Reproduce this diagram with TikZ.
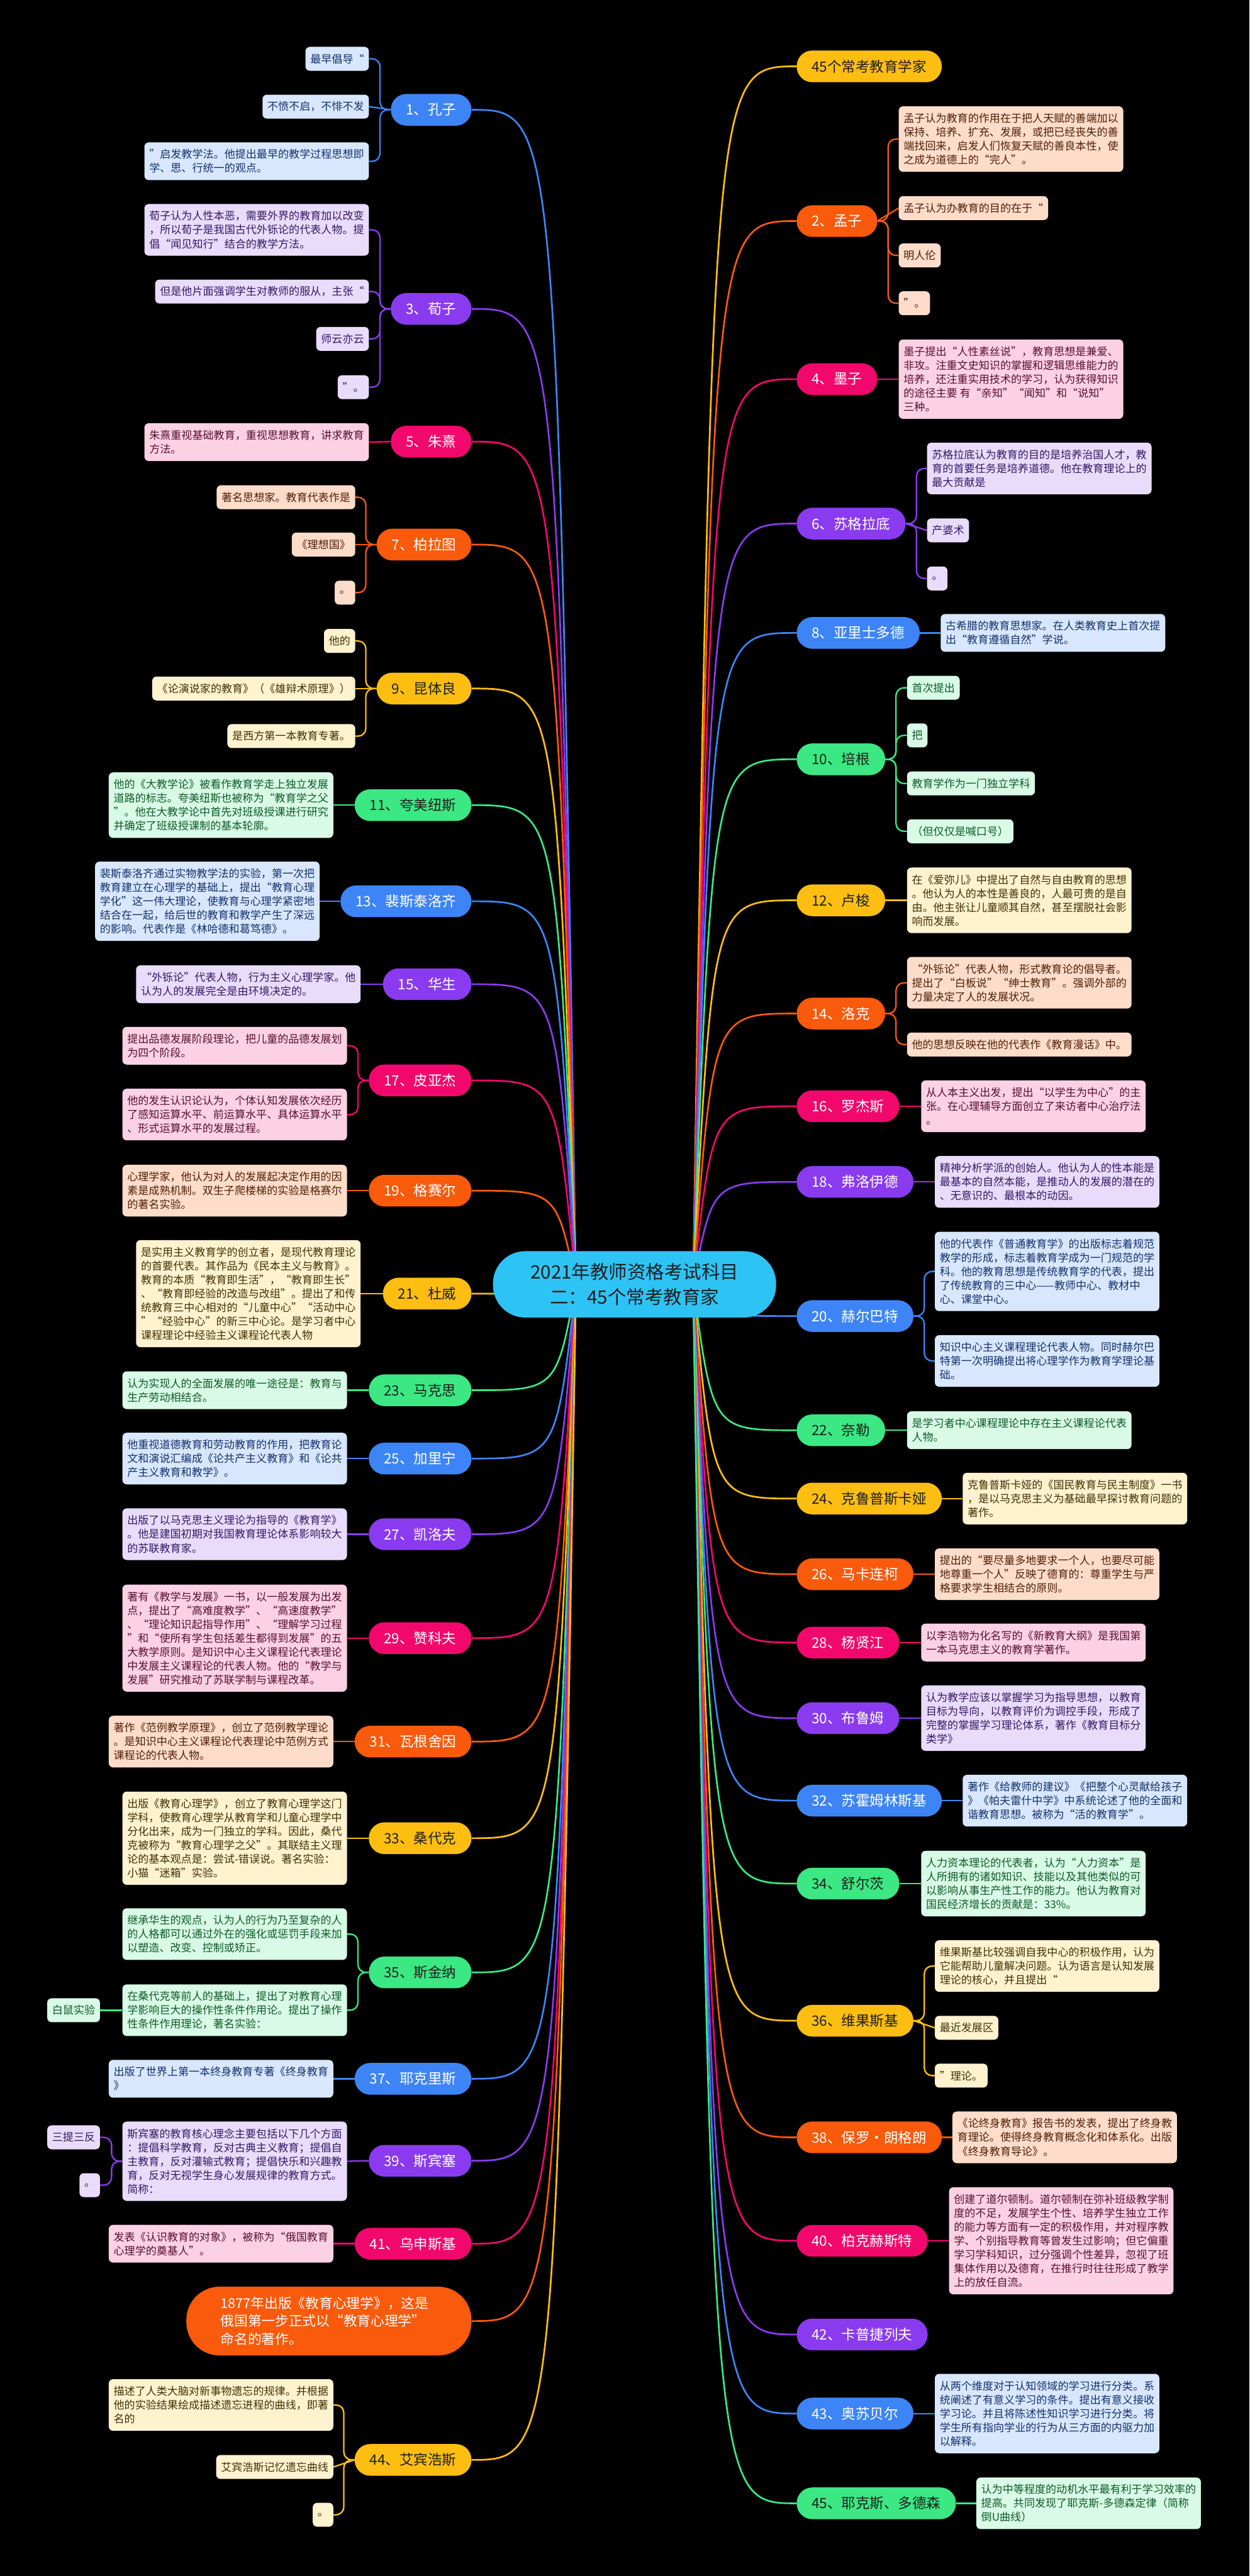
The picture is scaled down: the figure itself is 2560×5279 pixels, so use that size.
\documentclass[tikz,border=0pt]{standalone}
\usepackage{fontspec}
\newfontfamily\cjk{Noto Sans CJK SC}
\pgfdeclarelayer{back}
\pgfdeclarelayer{bg}
\pgfsetlayers{back,bg,main}
\definecolor{cBm}{HTML}{3D85F6}\definecolor{cBl}{HTML}{D8E7FD}\definecolor{cBt}{HTML}{13306B}
\definecolor{cPm}{HTML}{8A3BEF}\definecolor{cPl}{HTML}{E9DCFB}\definecolor{cPt}{HTML}{341763}
\definecolor{cKm}{HTML}{F2086C}\definecolor{cKl}{HTML}{FDD1E4}\definecolor{cKt}{HTML}{55102F}
\definecolor{cOm}{HTML}{F95A0C}\definecolor{cOl}{HTML}{FDDCCA}\definecolor{cOt}{HTML}{4F1F07}
\definecolor{cYm}{HTML}{FDBE11}\definecolor{cYl}{HTML}{FFF2CF}\definecolor{cYt}{HTML}{3F3004}
\definecolor{cGm}{HTML}{3BE883}\definecolor{cGl}{HTML}{D8FAE6}\definecolor{cGt}{HTML}{0E5A2A}
\definecolor{cCen}{HTML}{2EC3F5}\definecolor{cDk}{HTML}{1E1E1E}
\tikzset{
 mn/.style={rounded corners=32pt, inner xsep=31pt, inner ysep=0pt, minimum height=65pt, font=\cjk\fontsize{29}{34}\selectfont},
 mB/.style={mn, fill=cBm, text=white},
 mP/.style={mn, fill=cPm, text=white},
 mK/.style={mn, fill=cKm, text=white},
 mO/.style={mn, fill=cOm, text=white},
 mY/.style={mn, fill=cYm, text=cDk},
 mG/.style={mn, fill=cGm, text=cDk},
 cb/.style={rounded corners=9pt, inner xsep=10pt, inner ysep=0pt, align=left, font=\cjk\fontsize{22}{28.4}\selectfont, minimum height=49pt},
 n2/.style={minimum height=77.4pt}, n3/.style={minimum height=105.8pt},
 n4/.style={minimum height=134.2pt}, n5/.style={minimum height=162.6pt},
 n6/.style={minimum height=191pt}, n7/.style={minimum height=219.4pt},
 cB/.style={cb, fill=cBl, text=cBt}, cP/.style={cb, fill=cPl, text=cPt},
 cK/.style={cb, fill=cKl, text=cKt}, cO/.style={cb, fill=cOl, text=cOt},
 cY/.style={cb, fill=cYl, text=cYt}, cG/.style={cb, fill=cGl, text=cGt},
 lB/.style={draw=cBm, line width=3pt}, lP/.style={draw=cPm, line width=3pt},
 lK/.style={draw=cKm, line width=3pt}, lO/.style={draw=cOm, line width=3pt},
 lY/.style={draw=cYm, line width=3pt}, lG/.style={draw=cGm, line width=3pt},
}
\newcommand\BrL[3]{\draw[#1,rounded corners=16pt] (#2.west) -- ++(-22,0) |- (#3.east);}
\newcommand\BrR[3]{\draw[#1,rounded corners=16pt] (#2.east) -- ++(22,0) |- (#3.west);}
\newcommand\StL[3]{\draw[#1] (#2.west) -- (#3.east);}
\newcommand\StR[3]{\draw[#1] (#2.east) -- (#3.west);}
\newcommand\CurL[3]{\draw[#1,line width=3.5pt] (#2.east) .. controls (1140,#3) and (1140,#3) .. (cL);}
\newcommand\CurR[3]{\draw[#1,line width=3.5pt] (#2.west) .. controls (1460,#3) and (1460,#3) .. (cR);}
\begin{document}
\begin{tikzpicture}[x=1pt,y=-1pt]
\begin{pgfonlayer}{back}
\fill[black] (0,0) rectangle (2560,5279);
\end{pgfonlayer}
\useasboundingbox (0,0) rectangle (2560,5279);

% central
\node[rounded corners=66pt, fill=cCen, text=cDk, minimum width=580pt, minimum height=136pt, align=center, inner sep=0pt, font=\cjk\fontsize{38}{52}\selectfont] (C) at (1300,2632) {2021年教师资格考试科目\\二：45个常考教育家};
\coordinate (cL) at (1180,2632);
\coordinate (cR) at (1420,2632);

% ---------- left main nodes ----------
\node[mB,anchor=east] (m1) at (966,225) {1、孔子};
\node[mP,anchor=east] (m3) at (966,633) {3、荀子};
\node[mK,anchor=east] (m5) at (966,905) {5、朱熹};
\node[mO,anchor=east] (m7) at (966,1116) {7、柏拉图};
\node[mY,anchor=east] (m9) at (966,1411) {9、昆体良};
\node[mG,anchor=east] (m11) at (966,1650) {11、夸美纽斯};
\node[mB,anchor=east] (m13) at (966,1847) {13、裴斯泰洛齐};
\node[mP,anchor=east] (m15) at (966,2017) {15、华生};
\node[mK,anchor=east] (m17) at (966,2214) {17、皮亚杰};
\node[mO,anchor=east] (m19) at (966,2440) {19、格赛尔};
\node[mY,anchor=east] (m21) at (966,2651) {21、杜威};
\node[mG,anchor=east] (m23) at (966,2849) {23、马克思};
\node[mB,anchor=east] (m25) at (966,2989) {25、加里宁};
\node[mP,anchor=east] (m27) at (966,3144) {27、凯洛夫};
\node[mK,anchor=east] (m29) at (966,3357) {29、赞科夫};
\node[mO,anchor=east] (m31) at (966,3569) {31、瓦根舍因};
\node[mY,anchor=east] (m33) at (966,3767) {33、桑代克};
\node[mG,anchor=east] (m35) at (966,4042) {35、斯金纳};
\node[mB,anchor=east] (m37) at (966,4260) {37、耶克里斯};
\node[mP,anchor=east] (m39) at (966,4428) {39、斯宾塞};
\node[mK,anchor=east] (m41) at (966,4598) {41、乌申斯基};
\node[rounded corners=68pt, fill=cOm, text=white, inner xsep=70pt, inner ysep=0pt, minimum height=141pt, text width=444pt, align=left, font=\cjk\fontsize{28}{37.3}\selectfont, anchor=east] (m1877) at (966,4756.5) {1877年出版《教育心理学》，这是\\俄国第一步正式以“教育心理学”\\命名的著作。};
\node[mY,anchor=east] (m44) at (966,5041) {44、艾宾浩斯};

% ---------- right main nodes ----------
\node[mY,anchor=west] (m0) at (1632,136) {45个常考教育学家};
\node[mO,anchor=west] (m2) at (1632,453) {2、孟子};
\node[mK,anchor=west] (m4) at (1632,777) {4、墨子};
\node[mP,anchor=west] (m6) at (1632,1073) {6、苏格拉底};
\node[mB,anchor=west] (m8) at (1632,1297) {8、亚里士多德};
\node[mG,anchor=west] (m10) at (1632,1556) {10、培根};
\node[mY,anchor=west] (m12) at (1632,1845) {12、卢梭};
\node[mO,anchor=west] (m14) at (1632,2077) {14、洛克};
\node[mK,anchor=west] (m16) at (1632,2267) {16、罗杰斯};
\node[mP,anchor=west] (m18) at (1632,2422) {18、弗洛伊德};
\node[mB,anchor=west] (m20) at (1632,2697) {20、赫尔巴特};
\node[mG,anchor=west] (m22) at (1632,2931) {22、奈勒};
\node[mY,anchor=west] (m24) at (1632,3071) {24、克鲁普斯卡娅};
\node[mO,anchor=west] (m26) at (1632,3226) {26、马卡连柯};
\node[mK,anchor=west] (m28) at (1632,3366) {28、杨贤江};
\node[mP,anchor=west] (m30) at (1632,3521) {30、布鲁姆};
\node[mB,anchor=west] (m32) at (1632,3690) {32、苏霍姆林斯基};
\node[mG,anchor=west] (m34) at (1632,3860) {34、舒尔茨};
\node[mY,anchor=west] (m36) at (1632,4141) {36、维果斯基};
\node[mO,anchor=west] (m38) at (1632,4380) {38、保罗·朗格朗};
\node[mK,anchor=west] (m40) at (1632,4592) {40、柏克赫斯特};
\node[mP,anchor=west] (m42) at (1632,4784) {42、卡普捷列夫};
\node[mB,anchor=west] (m43) at (1632,4946) {43、奥苏贝尔};
\node[mG,anchor=west] (m45) at (1632,5130) {45、耶克斯、多德森};

% ---------- left children ----------
\node[cB,anchor=east] (l1a) at (756,120.5) {最早倡导“};
\node[cB,anchor=east] (l1b) at (756,218.5) {不愤不启，不悱不发};
\node[cB,n2,anchor=east] (l1c) at (756,330.5) {”启发教学法。他提出最早的教学过程思想即\\学、思、行统一的观点。};
\node[cP,n3,anchor=east] (l3a) at (756,471) {荀子认为人性本恶，需要外界的教育加以改变\\，所以荀子是我国古代外铄论的代表人物。提\\倡“闻见知行”结合的教学方法。};
\node[cP,anchor=east] (l3b) at (756,597.5) {但是他片面强调学生对教师的服从，主张“};
\node[cP,anchor=east] (l3c) at (756,694.5) {师云亦云};
\node[cP,anchor=east] (l3d) at (756,793.5) {”。};
\node[cK,n2,anchor=east] (l5) at (756,906) {朱熹重视基础教育，重视思想教育，讲求教育\\方法。};
\node[cO,anchor=east] (l7a) at (728,1019) {著名思想家。教育代表作是};
\node[cO,anchor=east] (l7b) at (728,1116) {《理想国》};
\node[cO,anchor=east] (l7c) at (728,1214.5) {。};
\node[cY,anchor=east] (l9a) at (728,1313.5) {他的};
\node[cY,anchor=east] (l9b) at (728,1411) {《论演说家的教育》（《雄辩术原理》）};
\node[cY,anchor=east] (l9c) at (728,1508.5) {是西方第一本教育专著。};
\node[cG,n4,anchor=east] (l11) at (683,1650) {他的《大教学论》被看作教育学走上独立发展\\道路的标志。夸美纽斯也被称为“教育学之父\\”。他在大教学论中首先对班级授课进行研究\\并确定了班级授课制的基本轮廓。};
\node[cB,n5,anchor=east] (l13) at (655,1847) {裴斯泰洛齐通过实物教学法的实验，第一次把\\教育建立在心理学的基础上，提出“教育心理\\学化”这一伟大理论，使教育与心理学紧密地\\结合在一起，给后世的教育和教学产生了深远\\的影响。代表作是《林哈德和葛笃德》。};
\node[cP,n2,anchor=east] (l15) at (739,2017) {“外铄论”代表人物，行为主义心理学家。他\\认为人的发展完全是由环境决定的。};
\node[cK,n2,anchor=east] (l17a) at (711,2143) {提出品德发展阶段理论，把儿童的品德发展划\\为四个阶段。};
\node[cK,n3,anchor=east] (l17b) at (711,2284) {他的发生认识论认为，个体认知发展依次经历\\了感知运算水平、前运算水平、具体运算水平\\、形式运算水平的发展过程。};
\node[cO,n3,anchor=east] (l19) at (711,2440) {心理学家，他认为对人的发展起决定作用的因\\素是成熟机制。双生子爬楼梯的实验是格赛尔\\的著名实验。};
\node[cY,n7,anchor=east] (l21) at (739,2651) {是实用主义教育学的创立者，是现代教育理论\\的首要代表。其作品为《民本主义与教育》。\\教育的本质“教育即生活”，“教育即生长”\\、“教育即经验的改造与改组”。提出了和传\\统教育三中心相对的“儿童中心”“活动中心\\”“经验中心”的新三中心论。是学习者中心\\课程理论中经验主义课程论代表人物};
\node[cG,n2,anchor=east] (l23) at (711,2849) {认为实现人的全面发展的唯一途径是：教育与\\生产劳动相结合。};
\node[cB,n3,anchor=east] (l25) at (711,2989) {他重视道德教育和劳动教育的作用，把教育论\\文和演说汇编成《论共产主义教育》和《论共\\产主义教育和教学》。};
\node[cP,n3,anchor=east] (l27) at (711,3144) {出版了以马克思主义理论为指导的《教育学》\\。他是建国初期对我国教育理论体系影响较大\\的苏联教育家。};
\node[cK,n7,anchor=east] (l29) at (711,3357) {著有《教学与发展》一书，以一般发展为出发\\点，提出了“高难度教学”、“高速度教学”\\、“理论知识起指导作用”、“理解学习过程\\”和“使所有学生包括差生都得到发展”的五\\大教学原则。是知识中心主义课程论代表理论\\中发展主义课程论的代表人物。他的“教学与\\发展”研究推动了苏联学制与课程改革。};
\node[cO,n3,anchor=east] (l31) at (683,3569) {著作《范例教学原理》，创立了范例教学理论\\。是知识中心主义课程论代表理论中范例方式\\课程论的代表人物。};
\node[cY,n6,anchor=east] (l33) at (711,3767) {出版《教育心理学》，创立了教育心理学这门\\学科，使教育心理学从教育学和儿童心理学中\\分化出来，成为一门独立的学科。因此，桑代\\克被称为“教育心理学之父”。其联结主义理\\论的基本观点是：尝试-错误说。著名实验：\\小猫“迷箱”实验。};
\node[cG,n3,anchor=east] (l35a) at (711,3963.5) {继承华生的观点，认为人的行为乃至复杂的人\\的人格都可以通过外在的强化或惩罚手段来加\\以塑造、改变、控制或矫正。};
\node[cG,n3,anchor=east] (l35b) at (711,4119.5) {在桑代克等前人的基础上，提出了对教育心理\\学影响巨大的操作性条件作用论。提出了操作\\性条件作用理论，著名实验：};
\node[cG,anchor=east] (l35c) at (205,4119.5) {白鼠实验};
\node[cB,n2,anchor=east] (l37) at (683,4260) {出版了世界上第一本终身教育专著《终身教育\\》};
\node[cP,n5,anchor=east] (l39) at (711,4429) {斯宾塞的教育核心理念主要包括以下几个方面\\：提倡科学教育，反对古典主义教育；提倡自\\主教育，反对灌输式教育；提倡快乐和兴趣教\\育，反对无视学生身心发展规律的教育方式。\\简称：};
\node[cP,anchor=east] (l39a) at (205,4380) {三提三反};
\node[cP,anchor=east] (l39b) at (205,4478) {。};
\node[cK,n2,anchor=east] (l41) at (683,4598) {发表《认识教育的对象》，被称为“俄国教育\\心理学的奠基人”。};
\node[cY,n3,anchor=east] (l44a) at (683,4928.5) {描述了人类大脑对新事物遗忘的规律。并根据\\他的实验结果绘成描述遗忘进程的曲线，即著\\名的};
\node[cY,anchor=east] (l44b) at (683,5055.5) {艾宾浩斯记忆遗忘曲线};
\node[cY,anchor=east] (l44c) at (683,5153.5) {。};

% ---------- right children ----------
\node[cO,n4,anchor=west] (r2a) at (1841,285) {孟子认为教育的作用在于把人天赋的善端加以\\保持、培养、扩充、发展，或把已经丧失的善\\端找回来，启发人们恢复天赋的善良本性，使\\之成为道德上的“完人”。};
\node[cO,anchor=west] (r2b) at (1841,426.5) {孟子认为办教育的目的在于“};
\node[cO,anchor=west] (r2c) at (1841,523.5) {明人伦};
\node[cO,anchor=west] (r2d) at (1841,621.5) {”。};
\node[cK,n5,anchor=west] (r4) at (1841,777) {墨子提出“人性素丝说”，教育思想是兼爱、\\非攻。注重文史知识的掌握和逻辑思维能力的\\培养，还注重实用技术的学习，认为获得知识\\的途径主要 有“亲知”“闻知”和“说知”\\三种。};
\node[cP,n3,anchor=west] (r6a) at (1899,960) {苏格拉底认为教育的目的是培养治国人才，教\\育的首要任务是培养道德。他在教育理论上的\\最大贡献是};
\node[cP,anchor=west] (r6b) at (1899,1087) {产婆术};
\node[cP,anchor=west] (r6c) at (1899,1185.5) {。};
\node[cB,n2,anchor=west] (r8) at (1927,1297) {古希腊的教育思想家。在人类教育史上首次提\\出“教育遵循自然”学说。};
\node[cG,anchor=west] (r10a) at (1858,1409.5) {首次提出};
\node[cG,anchor=west] (r10b) at (1858,1507) {把};
\node[cG,anchor=west] (r10c) at (1858,1605.5) {教育学作为一门独立学科};
\node[cG,anchor=west] (r10d) at (1858,1703.5) {（但仅仅是喊口号）};
\node[cY,n4,anchor=west] (r12) at (1858,1845) {在《爱弥儿》中提出了自然与自由教育的思想\\。他认为人的本性是善良的，人最可贵的是自\\由。他主张让儿童顺其自然，甚至摆脱社会影\\响而发展。};
\node[cO,n3,anchor=west] (r14a) at (1858,2014) {“外铄论”代表人物，形式教育论的倡导者。\\提出了“白板说”“绅士教育”。强调外部的\\力量决定了人的发展状况。};
\node[cO,anchor=west] (r14b) at (1858,2140.5) {他的思想反映在他的代表作《教育漫话》中。};
\node[cK,n3,anchor=west] (r16) at (1887,2267) {从人本主义出发，提出“以学生为中心”的主\\张。在心理辅导方面创立了来访者中心治疗法\\。};
\node[cP,n3,anchor=west] (r18) at (1915,2422) {精神分析学派的创始人。他认为人的性本能是\\最基本的自然本能，是推动人的发展的潜在的\\、无意识的、最根本的动因。};
\node[cB,n5,anchor=west] (r20a) at (1915,2605.5) {他的代表作《普通教育学》的出版标志着规范\\教学的形成，标志着教育学成为一门规范的学\\科。他的教育思想是传统教育学的代表，提出\\了传统教育的三中心——教师中心、教材中\\心、课堂中心。};
\node[cB,n3,anchor=west] (r20b) at (1915,2789) {知识中心主义课程理论代表人物。同时赫尔巴\\特第一次明确提出将心理学作为教育学理论基\\础。};
\node[cG,n2,anchor=west] (r22) at (1858,2931) {是学习者中心课程理论中存在主义课程论代表\\人物。};
\node[cY,n3,anchor=west] (r24) at (1972,3071) {克鲁普斯卡娅的《国民教育与民主制度》一书\\，是以马克思主义为基础最早探讨教育问题的\\著作。};
\node[cO,n3,anchor=west] (r26) at (1915,3226) {提出的“要尽量多地要求一个人，也要尽可能\\地尊重一个人”反映了德育的：尊重学生与严\\格要求学生相结合的原则。};
\node[cK,n2,anchor=west] (r28) at (1887,3366) {以李浩物为化名写的《新教育大纲》是我国第\\一本马克思主义的教育学著作。};
\node[cP,n4,anchor=west] (r30) at (1887,3521) {认为教学应该以掌握学习为指导思想，以教育\\目标为导向，以教育评价为调控手段，形成了\\完整的掌握学习理论体系，著作《教育目标分\\类学》};
\node[cB,n3,anchor=west] (r32) at (1972,3690) {著作《给教师的建议》《把整个心灵献给孩子\\》《帕夫雷什中学》中系统论述了他的全面和\\谐教育思想。被称为“活的教育学”。};
\node[cG,n4,anchor=west] (r34) at (1887,3860) {人力资本理论的代表者，认为“人力资本”是\\人所拥有的诸如知识、技能以及其他类似的可\\以影响从事生产性工作的能力。他认为教育对\\国民经济增长的贡献是：33\%。};
\node[cY,n3,anchor=west] (r36a) at (1915,4029) {维果斯基比较强调自我中心的积极作用，认为\\它能帮助儿童解决问题。认为语言是认知发展\\理论的核心，并且提出“};
\node[cY,anchor=west] (r36b) at (1915,4155.5) {最近发展区};
\node[cY,anchor=west] (r36c) at (1915,4253.5) {”理论。};
\node[cO,n3,anchor=west] (r38) at (1951,4380) {《论终身教育》报告书的发表，提出了终身教\\育理论。使得终身教育概念化和体系化。出版\\《终身教育导论》。};
\node[cK,n7,anchor=west] (r40) at (1944,4592) {创建了道尔顿制。道尔顿制在弥补班级教学制\\度的不足，发展学生个性、培养学生独立工作\\的能力等方面有一定的积极作用，并对程序教\\学、个别指导教育等曾发生过影响；但它偏重\\学习学科知识，过分强调个性差异，忽视了班\\集体作用以及德育，在推行时往往形成了教学\\上的放任自流。};
\node[cB,n5,anchor=west] (r43) at (1915,4946) {从两个维度对于认知领域的学习进行分类。系\\统阐述了有意义学习的条件。提出有意义接收\\学习论。并且将陈述性知识学习进行分类。将\\学生所有指向学业的行为从三方面的内驱力加\\以解释。};
\node[cG,n3,anchor=west] (r45) at (2000,5130) {认为中等程度的动机水平最有利于学习效率的\\提高。共同发现了耶克斯-多德森定律（简称\\倒U曲线）};

\begin{pgfonlayer}{bg}
% main curves left
\CurL{lB}{m1}{225}\CurL{lP}{m3}{633}\CurL{lK}{m5}{905}\CurL{lO}{m7}{1116}
\CurL{lY}{m9}{1411}\CurL{lG}{m11}{1650}\CurL{lB}{m13}{1847}\CurL{lP}{m15}{2017}
\CurL{lK}{m17}{2214}\CurL{lO}{m19}{2440}\CurL{lY}{m21}{2651}\CurL{lG}{m23}{2849}
\CurL{lB}{m25}{2989}\CurL{lP}{m27}{3144}\CurL{lK}{m29}{3357}\CurL{lO}{m31}{3569}
\CurL{lY}{m33}{3767}\CurL{lG}{m35}{4042}\CurL{lB}{m37}{4260}\CurL{lP}{m39}{4428}
\CurL{lK}{m41}{4598}\CurL{lO}{m1877}{4756.5}\CurL{lY}{m44}{5041}
% main curves right
\CurR{lY}{m0}{136}\CurR{lO}{m2}{453}\CurR{lK}{m4}{777}\CurR{lP}{m6}{1073}
\CurR{lB}{m8}{1297}\CurR{lG}{m10}{1556}\CurR{lY}{m12}{1845}\CurR{lO}{m14}{2077}
\CurR{lK}{m16}{2267}\CurR{lP}{m18}{2422}\CurR{lB}{m20}{2697}\CurR{lG}{m22}{2931}
\CurR{lY}{m24}{3071}\CurR{lO}{m26}{3226}\CurR{lK}{m28}{3366}\CurR{lP}{m30}{3521}
\CurR{lB}{m32}{3690}\CurR{lG}{m34}{3860}\CurR{lY}{m36}{4141}\CurR{lO}{m38}{4380}
\CurR{lK}{m40}{4592}\CurR{lP}{m42}{4784}\CurR{lB}{m43}{4946}\CurR{lG}{m45}{5130}
% left child connectors
\BrL{lB}{m1}{l1a}\StL{lB}{m1}{l1b}\BrL{lB}{m1}{l1c}
\BrL{lP}{m3}{l3a}\BrL{lP}{m3}{l3b}\BrL{lP}{m3}{l3c}\BrL{lP}{m3}{l3d}
\StL{lK}{m5}{l5}
\BrL{lO}{m7}{l7a}\StL{lO}{m7}{l7b}\BrL{lO}{m7}{l7c}
\BrL{lY}{m9}{l9a}\StL{lY}{m9}{l9b}\BrL{lY}{m9}{l9c}
\StL{lG}{m11}{l11}\StL{lB}{m13}{l13}\StL{lP}{m15}{l15}
\BrL{lK}{m17}{l17a}\BrL{lK}{m17}{l17b}
\StL{lO}{m19}{l19}\StL{lY}{m21}{l21}\StL{lG}{m23}{l23}\StL{lB}{m25}{l25}
\StL{lP}{m27}{l27}\StL{lK}{m29}{l29}\StL{lO}{m31}{l31}\StL{lY}{m33}{l33}
\BrL{lG}{m35}{l35a}\BrL{lG}{m35}{l35b}\StL{lG}{l35b}{l35c}
\StL{lB}{m37}{l37}
\StL{lP}{m39}{l39}\BrL{lP}{l39}{l39a}\BrL{lP}{l39}{l39b}
\StL{lK}{m41}{l41}
\BrL{lY}{m44}{l44a}\StL{lY}{m44}{l44b}\BrL{lY}{m44}{l44c}
% right child connectors
\BrR{lO}{m2}{r2a}\StR{lO}{m2}{r2b}\BrR{lO}{m2}{r2c}\BrR{lO}{m2}{r2d}
\StR{lK}{m4}{r4}
\BrR{lP}{m6}{r6a}\StR{lP}{m6}{r6b}\BrR{lP}{m6}{r6c}
\StR{lB}{m8}{r8}
\BrR{lG}{m10}{r10a}\BrR{lG}{m10}{r10b}\BrR{lG}{m10}{r10c}\BrR{lG}{m10}{r10d}
\StR{lY}{m12}{r12}
\BrR{lO}{m14}{r14a}\BrR{lO}{m14}{r14b}
\StR{lK}{m16}{r16}\StR{lP}{m18}{r18}
\BrR{lB}{m20}{r20a}\BrR{lB}{m20}{r20b}
\StR{lG}{m22}{r22}\StR{lY}{m24}{r24}\StR{lO}{m26}{r26}\StR{lK}{m28}{r28}
\StR{lP}{m30}{r30}\StR{lB}{m32}{r32}\StR{lG}{m34}{r34}
\BrR{lY}{m36}{r36a}\StR{lY}{m36}{r36b}\BrR{lY}{m36}{r36c}
\StR{lO}{m38}{r38}\StR{lK}{m40}{r40}\StR{lB}{m43}{r43}\StR{lG}{m45}{r45}
\end{pgfonlayer}
\end{tikzpicture}
\end{document}
